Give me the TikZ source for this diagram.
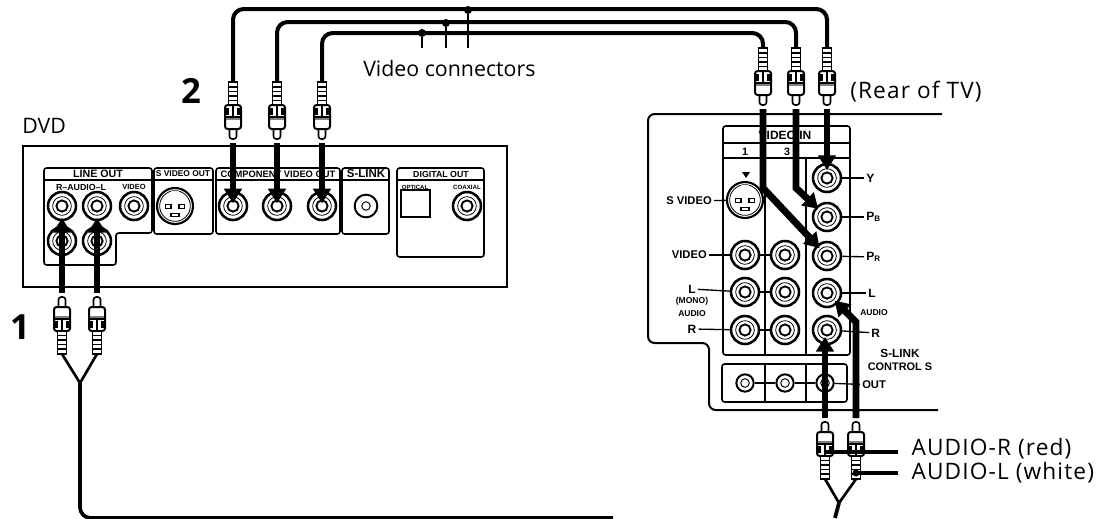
\documentclass[tikz,border=0pt]{standalone}
\usepackage{fontspec}
\setmainfont{Open Sans}
\setsansfont{Liberation Sans}
\newfontfamily\spacedfont[LetterSpace=5]{Open Sans}
\usetikzlibrary{arrows.meta}
\tikzset{
  caption/.style={font=\fontsize{16}{18}\selectfont,inner sep=0pt},
  spaced caption/.style={font=\spacedfont\fontsize{17}{19}\selectfont,inner sep=0pt},
  bignum/.style={font=\fontsize{26}{28}\selectfont\bfseries,inner sep=0pt},
  tiny label/.style={font=\sffamily\bfseries\fontsize{#1}{#1}\selectfont,inner sep=0pt},
  tiny label/.default=6.5,
  side label/.style={font=\sffamily\bfseries\fontsize{#1}{#1}\selectfont,inner sep=1.5pt},
  side label/.default=8.4,
  panel/.style={line width=1.5pt,rounded corners=5pt},
  subpanel/.style={line width=1.2pt,rounded corners=2pt},
  rca/.style={circle,draw,fill=white,line width=1.9pt,minimum size=21pt,inner sep=0pt,
    path picture={
      \draw[line width=.6pt] (path picture bounding box.center) circle (7pt);
      \draw[line width=1.4pt] (path picture bounding box.center) circle (4.2pt);}},
  small rca/.style={circle,draw,fill=white,line width=1.5pt,minimum size=13pt,inner sep=0pt,
    path picture={\draw[line width=.7pt] (path picture bounding box.center) circle (3.2pt);}},
  svideo/.style={circle,draw,fill=white,line width=1.6pt,minimum size=27pt,inner sep=0pt,
    path picture={
      \begin{scope}[shift={(path picture bounding box.center)}]
      \draw[line width=.6pt] (0,0) circle (11.5pt);
      \draw[line width=.8pt] (-3pt,-8pt) rectangle (3pt,-5.5pt);
      \draw[line width=.8pt] (-7pt,-2pt) rectangle (-3pt,1pt);
      \draw[line width=.8pt] (3pt,-2pt) rectangle (7pt,1pt);
      \fill (-8pt,4pt) rectangle (-3pt,6pt);
      \fill (3pt,4pt) rectangle (8pt,6pt);
      \fill (-3pt,8pt) rectangle (3pt,11pt);
      \end{scope}}},
  leader/.style={line width=1pt},
  cable/.style={line width=3pt,rounded corners=8pt},
  feedwire/.style={line width=5.2pt,shorten <=3pt,-{Triangle[width=13pt,length=11pt]}},
  tapdot/.style={circle,fill=black,minimum size=6pt,inner sep=0pt},
  rcaplug/.pic={
    \coordinate (-tip) at (0,0);
    \coordinate (-mid) at (0,30);
    \coordinate (-rib) at (0,51);
    \coordinate (-tail) at (0,57);
    \draw[line width=1.2pt,fill=white,rounded corners=2pt] (-3.5,11) -- (-3.5,0) -- (3.5,0) -- (3.5,11);
    \draw[line width=1.5pt,fill=white,rounded corners=2pt] (-8,10) rectangle (8,34);
    \fill[gray] (-7,19) rectangle (7,22);
    \draw[line width=1.1pt] (-7,22) -- (7,22);
    \fill (-8,24) rectangle (-4,31);
    \fill (4,24) rectangle (8,31);
    \draw[line width=1pt] (0,22) -- (0,33);
    \draw[line width=1.2pt,fill=white] (-4.5,34) rectangle (4.5,57);
    \foreach \r in {38.5,43,47.5,52}
      {\draw[line width=1.1pt] (-4.5,\r) -- (4.5,\r);}
  }
}
\begin{document}
\begin{tikzpicture}[x=0.75pt,y=-0.75pt]
\useasboundingbox (0,0) rectangle (1120,518);
% DVD
\draw[line width=1.5pt] (23,146) rectangle (507,287);
\draw[subpanel] (44,180) -- (44,168) -- (152,168) -- (152,233) -- (116,233) -- (116,265) -- (44,265) -- cycle;
\draw[subpanel] (44,180) -- (152,180);
\foreach \l/\r/\b in {154/213/234,216/340/234,342/389/234,397/484/257}
  {\draw[subpanel] (\l,180) -- (\l,168) -- (\r,168) -- (\r,\b) -- (\l,\b) -- cycle;
   \draw[subpanel] (\l,180) -- (\r,180);}
\draw[line width=1.4pt] (401,190) rectangle (430,217);
\foreach \name/\x/\y in {dvdR/62/206,dvdL/97/206,dvdV/134/206,dvdRb/62/241,dvdLb/97/241,dvdY/233/206,dvdPb/277/206,dvdPr/322/206,dvdCo/467/206}
  {\node[rca] (\name) at (\x,\y) {};}
\node[svideo] (dvdS) at (175,206) {};
\node[small rca,minimum size=17pt] (dvdLink) at (366,206) {};
\node[tiny label=8] (tLine) at (98,174) {LINE OUT};
\node[tiny label=6.3] (tSvid) at (183,174) {S VIDEO OUT};
\node[tiny label=7] (tComp) at (278,174) {COMPONENT VIDEO OUT};
\node[tiny label=8.6] (tLink) at (366,174) {S-LINK};
\node[tiny label=6.6] (tDigi) at (441,174) {DIGITAL OUT};
\node[tiny label=6.6] (tAud) at (81,187) {R–AUDIO–L};
\node[tiny label=5.6] (tVid) at (134,187) {VIDEO};
\node[tiny label=4.5] (tOpt) at (415,187) {OPTICAL};
\node[tiny label=4.6] (tCoa) at (467,187) {COAXIAL};
% TV
\draw[panel] (942,114) -- (648,114) -- (648,343) -- (709,343) -- (709,410) -- (938,410);
\draw[subpanel] (723,158) -- (723,126) -- (850,126) -- (850,355) -- (723,355) -- cycle;
\draw[subpanel] (723,143) -- (850,143);
\draw[subpanel] (723,158) -- (850,158);
\draw[line width=1pt] (765,158) -- (765,355);
\draw[line width=1pt] (806,158) -- (806,355);
\draw[subpanel] (722,364) rectangle (847,402);
\draw[line width=1pt] (765,364) -- (765,402);
\draw[line width=1pt] (806,364) -- (806,402);
\node[tiny label=9] (tVin) at (785,135) {VIDEO IN};
\node[tiny label=8] (tOne) at (745,152) {1};
\node[tiny label=8] (tThree) at (787,152) {3};
\fill (742,172) -- (750,172) -- (746,178) -- cycle;
\foreach \name/\x/\y in {tvV/745/255,tvL/745/292,tvR/745/330,tvVb/785/255,tvLb/785/292,tvRb/785/330,tvY/827/178,tvPb/827/217,tvPr/827/256,tvLc/827/293,tvRc/827/330}
  {\node[rca] (\name) at (\x,\y) {};}
\node[svideo] (tvS) at (745,200) {};
\foreach \name/\x in {tvOa/745,tvOb/785,tvOc/825}
  {\node[small rca] (\name) at (\x,383) {};}
\node[side label,anchor=east] (lSv) at (714,201) {S VIDEO};
\node[side label,anchor=east] (lVid) at (709,255) {VIDEO};
\node[side label=9] (lL) at (692,289) {L};
\node[tiny label=6.4] (lMono) at (692,301) {(MONO)};
\node[tiny label=6.4] (lAudio) at (692,314) {AUDIO};
\node[side label=9] (lR) at (692,329) {R};
\node[side label=9,anchor=west] (lY) at (864,178) {Y};
\node[side label=9,anchor=west] (lPb) at (864,217) {P\textsubscript{B}};
\node[side label=9,anchor=west] (lPr) at (864,257) {P\textsubscript{R}};
\node[side label=9,anchor=west] (lLc) at (866,293) {L};
\node[tiny label=6.4] (lAud) at (874,313) {AUDIO};
\node[side label=9,anchor=west] (lRc) at (869,333) {R};
\node[side label=8.8] (lSlink) at (900,353) {S-LINK};
\node[side label=8.2] (lCtrl) at (900,367) {CONTROL S};
\node[side label,anchor=west] (lOut) at (860,385) {OUT};
\foreach \a/\b in {lSv/tvS,lVid/tvV,lL/tvL,lR/tvR,tvV/tvVb,tvL/tvLb,tvR/tvRb,tvY/lY,tvPb/lPb,tvPr/lPr,tvLc/lLc,tvRc/lRc,tvOa/tvOb,tvOb/tvOc,tvOc/lOut}
  {\draw[leader] (\a) -- (\b);}
% plugs
\foreach \name/\x in {plugA/233,plugB/277,plugC/322}
  {\pic[yscale=-1] (\name) at (\x,139) {rcaplug};}
\foreach \name/\x in {plugD/763,plugE/796,plugF/827}
  {\pic[yscale=-1] (\name) at (\x,105) {rcaplug};}
\pic (plugG) at (62,297) {rcaplug};
\pic (plugH) at (97,297) {rcaplug};
\pic (plugJ) at (825,422) {rcaplug};
\pic (plugK) at (856,422) {rcaplug};
% video cables
\foreach \a/\b/\h in {plugA/plugF/9,plugB/plugE/22,plugC/plugD/33}
  {\coordinate (level) at (0,\h);
   \draw[cable] (\a-tail) -- (\a-tail |- level) -- (\b-tail |- level) -- (\b-tail);}
\node[tapdot] (tapA) at (422,33) {};
\node[tapdot] (tapB) at (446,23) {};
\node[tapdot] (tapC) at (468,10) {};
\coordinate (endA) at (422,48);
\coordinate (endB) at (446,48);
\coordinate (endC) at (468,48);
\foreach \a/\b in {tapA/endA,tapB/endB,tapC/endC}
  {\draw[line width=2.2pt] (\a) -- (\b);}
% audio cables
\coordinate (forkL) at (80,383);
\coordinate (downL) at (80,518);
\coordinate (stopL) at (613,518);
\coordinate (forkR) at (839,503);
\coordinate (downR) at (835,518);
\draw[line width=2pt] (plugG-tail) -- (forkL) -- (plugH-tail);
\draw[line width=2.8pt,rounded corners=8pt] (forkL) -- (downL) -- (stopL);
\draw[line width=2pt] (plugJ-tail) -- (forkR) -- (plugK-tail);
\draw[line width=2.8pt] (forkR) -- (downR);
% wires into the jacks
\draw[feedwire,shorten >=2pt] (plugA-tip) -- (dvdY.center);
\draw[feedwire,shorten >=2pt] (plugB-tip) -- (dvdPb.center);
\draw[feedwire,shorten >=2pt] (plugC-tip) -- (dvdPr.center);
\draw[feedwire,shorten >=9pt] (plugG-tip) -- (dvdR.center);
\draw[feedwire,shorten >=9pt] (plugH-tip) -- (dvdL.center);
\draw[feedwire,shorten >=6pt] (plugF-tip) -- (tvY.center);
\coordinate (bendE) at (796,188);
\coordinate (bendD) at (763,188);
\coordinate (bendK) at (856,322);
\draw[feedwire,shorten >=9pt] (plugE-tip) -- (bendE) -- (tvPb.center);
\draw[feedwire,shorten >=8pt] (plugD-tip) -- (bendD) -- (tvPr.center);
\draw[feedwire,shorten >=8pt] (plugK-tip) -- (bendK) -- (tvLc.center);
\coordinate (stopJ) at (825,337);
\draw[feedwire] (plugJ-tip) -- (stopJ);
% texts
\node[caption,anchor=west] (tDvd) at (22,126) {DVD};
\node[bignum] (numTwo) at (191,91) {2};
\node[bignum] (numOne) at (20,327) {1};
\node[caption,anchor=west] (tConn) at (363,68) {Video connectors};
\node[spaced caption,anchor=west] (tRear) at (850,92) {(Rear of TV)};
\node[spaced caption,anchor=west,inner xsep=10pt] (tAudR) at (898,449) {AUDIO-R (red)};
\node[spaced caption,anchor=west,inner xsep=10pt] (tAudL) at (898,473) {AUDIO-L (white)};
\fill (plugK-rib) circle (3.5);
\coordinate (stopR) at (898,452);
\coordinate (stopKL) at (898,473);
\draw[line width=2.4pt] (plugJ-mid) -- (stopR);
\draw[line width=2.4pt] (plugK-rib) -- (stopKL);
\end{tikzpicture}
\end{document}
